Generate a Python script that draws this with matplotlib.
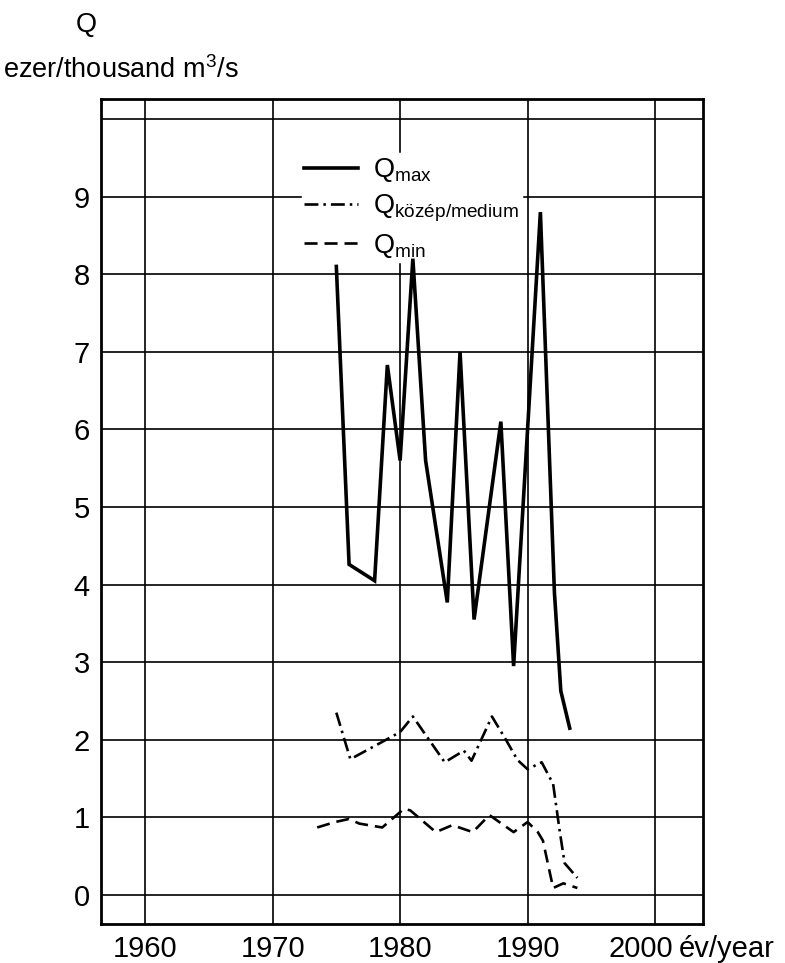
import matplotlib
matplotlib.use("Agg")
import matplotlib.pyplot as plt
import matplotlib.transforms as mtransforms
from matplotlib import font_manager

# pick a narrow sans if there is one, the scan uses condensed Helvetica
names = {f.name for f in font_manager.fontManager.ttflist}
if "Liberation Sans Narrow" in names:
    FONT, FS, TFS, LFS = "Liberation Sans Narrow", 22, 24, 22
else:
    FONT, FS, TFS, LFS = "Liberation Sans", 19.5, 21, 19.5

plt.rcParams["font.family"] = [FONT, "DejaVu Sans"]
plt.rcParams["mathtext.fontset"] = "custom"
plt.rcParams["mathtext.rm"] = FONT
plt.rcParams["lines.scale_dashes"] = False

# data (thousand m3/s)
years_max = [1975, 1976, 1978, 1979, 1980, 1981, 1982, 1983.7, 1984.7, 1985.8,
             1987.9, 1988.9, 1991, 1992.1, 1992.6, 1993.3]
q_max = [8.1, 4.26, 4.05, 6.83, 5.6, 8.2, 5.6, 3.77, 7.0, 3.55,
         6.1, 2.95, 8.8, 3.9, 2.63, 2.15]

years_med = [1975, 1976.1, 1978.9, 1980, 1981, 1983.5, 1985, 1985.6, 1987.2,
             1988.3, 1989.2, 1990, 1991.1, 1992, 1992.5, 1992.9, 1993.9]
q_med = [2.35, 1.75, 2.0, 2.1, 2.3, 1.71, 1.86, 1.73, 2.3,
         2.0, 1.74, 1.62, 1.71, 1.43, 0.84, 0.41, 0.22]

years_min = [1973.5, 1974.9, 1976, 1976.8, 1978.6, 1980.3, 1980.8, 1982.8, 1984.1,
             1985.7, 1987, 1988.9, 1990, 1990.8, 1991.2, 1992, 1992.8, 1993.9]
q_min = [0.87, 0.94, 0.98, 0.92, 0.87, 1.11, 1.09, 0.81, 0.9,
         0.81, 1.03, 0.81, 0.94, 0.81, 0.7, 0.09, 0.15, 0.09]

x_ticks = [1960, 1970, 1980, 1990, 2000]
y_ticks = list(range(0, 11))
y_labels = [str(v) for v in range(0, 10)] + [""]

labels = [r"$\mathregular{Q_{max}}$",
          r"$\mathregular{Q_{közép/medium}}$",
          r"$\mathregular{Q_{min}}$"]

fig = plt.figure(figsize=(7.85, 9.63), dpi=100)
ax = fig.add_axes([0.1287, 0.0405, 0.767, 0.8567])

ax.plot(years_max, q_max, color="black", lw=2.6, solid_joinstyle="miter", label=labels[0])
ax.plot(years_med, q_med, color="black", lw=1.9, dashes=(10, 3.6, 1.8, 3.6), label=labels[1])
ax.plot(years_min, q_min, color="black", lw=1.9, dashes=(9.4, 5), label=labels[2])

ax.set_xlim(1956.55, 2003.76)
ax.set_ylim(-0.374, 10.258)
ax.set_xticks(x_ticks)
ax.set_yticks(y_ticks)
ax.set_yticklabels(y_labels)
ax.tick_params(length=0, labelsize=TFS)
ax.tick_params(axis="x", pad=8)
ax.tick_params(axis="y", pad=8)
ax.set_axisbelow(True)
ax.grid(True, color="black", lw=1.2)
for sp in ax.spines.values():
    sp.set_linewidth(2.0)

# the 2000 label sits a little left of its grid line, "év/year" follows it
last = ax.xaxis.get_major_ticks()[-1].label1
last.set_transform(last.get_transform() +
                   mtransforms.ScaledTranslation(-0.14, 0, fig.dpi_scale_trans))

leg = ax.legend(loc="upper left", bbox_to_anchor=(0.333, 0.934), borderaxespad=0,
                frameon=True, facecolor="white", edgecolor="white", framealpha=1,
                fancybox=False, borderpad=0.1, handlelength=2.0, handletextpad=0.55,
                labelspacing=0.3, fontsize=LFS)
leg.set_zorder(1)

ax.text(2001.85, -0.040, "év/year", transform=ax.get_xaxis_transform(),
        ha="left", va="baseline", fontsize=TFS)

fig.text(0.1096, 0.974, "Q", ha="center", va="center", fontsize=FS)
fig.text(3 / 785, 0.919, r"ezer/thousand m$\mathregular{^3}$/s", ha="left",
         va="baseline", fontsize=FS)

fig.savefig("out.png", dpi=100)
